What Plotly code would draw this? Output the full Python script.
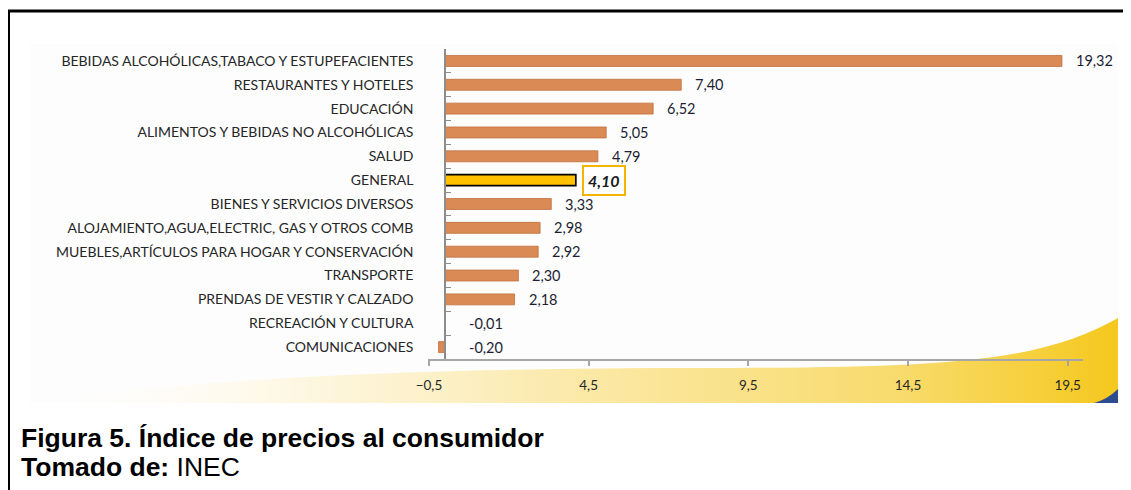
import base64
import plotly.graph_objects as go

categories = [
    "BEBIDAS ALCOHÓLICAS,TABACO Y ESTUPEFACIENTES",
    "RESTAURANTES Y HOTELES",
    "EDUCACIÓN",
    "ALIMENTOS Y BEBIDAS NO ALCOHÓLICAS",
    "SALUD",
    "GENERAL",
    "BIENES Y SERVICIOS DIVERSOS",
    "ALOJAMIENTO,AGUA,ELECTRIC, GAS Y OTROS COMB",
    "MUEBLES,ARTÍCULOS PARA HOGAR Y CONSERVACIÓN",
    "TRANSPORTE",
    "PRENDAS DE VESTIR Y CALZADO",
    "RECREACIÓN Y CULTURA",
    "COMUNICACIONES",
]
values = [19.32, 7.40, 6.52, 5.05, 4.79, 4.10, 3.33, 2.98, 2.92, 2.30, 2.18, -0.01, -0.20]
highlight = "GENERAL"
x_ticks = [-0.5, 4.5, 9.5, 14.5, 19.5]
title_line = "Figura 5. Índice de precios al consumidor"
source_bold = "Tomado de:"
source_text = "INEC"

# the page body adds an 8px margin; work in window pixels and shift
OFF = 8
WIN_W, WIN_H = 1131, 490
W, H = WIN_W - OFF, WIN_H - OFF
# plot area in window pixels
PL, PR, PT, PB = 428, 1083, 49, 359
ML, MR, MT, MB = PL - OFF, W - (PR - OFF), PT - OFF, H - (PB - OFF)
XMIN, XMAX = -0.53, 19.98
PW, PH = PR - PL, PB - PT


def px(xw):
    return (xw - PL) / PW


def py(yw):
    return (PB - yw) / PH


def fmt(v):
    return f"{v:.2f}".replace(".", ",")


BAR = "#D98A55"
BAR_LINE = "#C2703C"
GEN = "#FFC000"

colors = [GEN if c == highlight else BAR for c in categories]
line_colors = ["#000000" if c == highlight else BAR_LINE for c in categories]
line_widths = [1.6 if c == highlight else 0.8 for c in categories]

fig = go.Figure()
fig.add_trace(go.Bar(
    x=values, y=categories, orientation="h",
    marker=dict(color=colors, line=dict(color=line_colors, width=line_widths)),
    hoverinfo="x+y", showlegend=False,
))

annotations = []
for c, v in zip(categories, values):
    if c == highlight:
        annotations.append(dict(
            x=max(v, 0), y=c, xref="x", yref="y", text=f"<b><i>{fmt(v)}</i></b>",
            showarrow=False, xanchor="left", xshift=6,
            font=dict(family="Lato", size=16, color="#1a1a1a"),
            bordercolor="#F5B400", borderwidth=2, borderpad=4, bgcolor="white",
        ))
    else:
        annotations.append(dict(
            x=max(v, 0), y=c, xref="x", yref="y", text=fmt(v),
            showarrow=False, xanchor="left", xshift=12 if v > 0 else 22,
            font=dict(family="Lato", size=14.5, color="#1c1f33"),
        ))

annotations.append(dict(
    x=px(19), y=py(438), xref="paper", yref="paper", xanchor="left", yanchor="middle",
    text=f"<b>{title_line}</b>", showarrow=False,
    font=dict(family="Liberation Sans", size=26.5, color="#000000"),
))
annotations.append(dict(
    x=px(19), y=py(467), xref="paper", yref="paper", xanchor="left", yanchor="middle",
    text=f"<b>{source_bold}</b> {source_text}", showarrow=False,
    font=dict(family="Liberation Sans", size=26.5, color="#000000"),
))

# decorative background panel with yellow swoosh (window pixels)
PX0, PY0, PX1, PY1 = 30, 44, 1118, 403
pw, ph = PX1 - PX0, PY1 - PY0


def sx(x):
    return x - PX0


def sy(y):
    return y - PY0


svg = f'''<svg xmlns="http://www.w3.org/2000/svg" width="{pw}" height="{ph}" viewBox="0 0 {pw} {ph}" preserveAspectRatio="none">
<defs>
<linearGradient id="g" x1="0" y1="0" x2="1" y2="0">
<stop offset="0" stop-color="#FFFFFF" stop-opacity="0"/>
<stop offset="0.2" stop-color="#FEF8E6" stop-opacity="0.8"/>
<stop offset="0.5" stop-color="#FBE9A8"/>
<stop offset="0.8" stop-color="#F8DB6C"/>
<stop offset="1" stop-color="#F5C81E"/>
</linearGradient>
</defs>
<rect x="0" y="0" width="{pw}" height="{ph}" fill="#FDFDFD"/>
<path d="M {sx(30)},{sy(403)} C {sx(200)},{sy(378)} {sx(420)},{sy(368)} {sx(700)},{sy(368)} C {sx(950)},{sy(368)} {sx(1040)},{sy(362)} {sx(1118)},{sy(318)} L {sx(1118)},{sy(403)} Z" fill="url(#g)"/>
<path d="M {sx(1094)},{sy(403)} Q {sx(1108)},{sy(399)} {sx(1118)},{sy(389)} L {sx(1118)},{sy(403)} Z" fill="#2B4C8F"/>
</svg>'''
src = "data:image/svg+xml;base64," + base64.b64encode(svg.encode()).decode()

fig.update_layout(
    width=W, height=H,
    margin=dict(l=ML, r=MR, t=MT, b=MB, autoexpand=False),
    paper_bgcolor="white", plot_bgcolor="rgba(0,0,0,0)",
    bargap=0.54,
    separators=",.",
    annotations=annotations,
    images=[dict(source=src, xref="paper", yref="paper", x=px(PX0), y=py(PY0),
                 sizex=px(PX1) - px(PX0), sizey=py(PY0) - py(PY1),
                 xanchor="left", yanchor="top", sizing="stretch", layer="below")],
    shapes=[
        dict(type="line", xref="paper", yref="paper", x0=px(7), x1=px(WIN_W), y0=py(11), y1=py(11),
             line=dict(color="black", width=3)),
        dict(type="line", xref="paper", yref="paper", x0=px(8.5), x1=px(8.5), y0=py(10), y1=py(WIN_H),
             line=dict(color="black", width=3)),
    ],
    xaxis=dict(
        range=[XMIN, XMAX], tickvals=x_ticks, tickformat=".1f",
        showgrid=False, zeroline=False, showline=True, linecolor="#A6A6A6", linewidth=1.5,
        ticks="outside", ticklen=5, tickcolor="#A6A6A6", tickwidth=1.5,
        tickfont=dict(family="Lato", size=13.5, color="#262626"),
        ticklabelstandoff=8, automargin=False, fixedrange=True,
    ),
    yaxis=dict(
        categoryorder="array", categoryarray=categories, range=[len(categories) - 0.5, -0.5],
        anchor="free", position=(0 - XMIN) / (XMAX - XMIN),
        showgrid=False, zeroline=False, showline=True, linecolor="#8C8C8C", linewidth=1.5,
        ticks="inside", ticklen=5, tickcolor="#8C8C8C", tickwidth=1.2, tickson="boundaries",
        tickfont=dict(family="Lato", size=14, color="#262626"),
        ticklabelstandoff=28, automargin=False, fixedrange=True,
    ),
)

fig.write_html("out.html")
